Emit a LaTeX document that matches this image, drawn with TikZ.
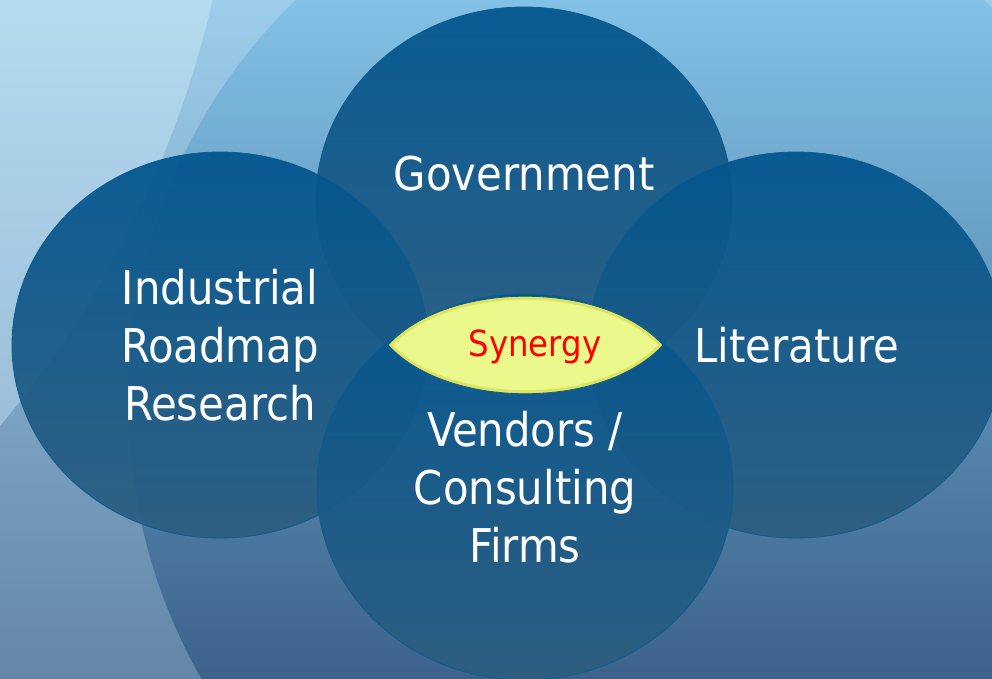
\documentclass[tikz,border=0pt]{standalone}
\usepackage{fontspec}
\usepackage{xcolor}
\usepackage{tikz}
\usetikzlibrary{shapes.geometric}
\newfontfamily\diagfont{DejaVu Sans Condensed}
\definecolor{hgHellOben}{RGB}{180,219,240}
\definecolor{hgHellUnten}{RGB}{140,174,204}
\definecolor{hgMittelOben}{RGB}{157,205,234}
\definecolor{hgMittelUnten}{RGB}{100,134,168}
\definecolor{hgDunkelOben}{RGB}{130,193,229}
\definecolor{hgDunkelUnten}{RGB}{60,98,140}
\definecolor{kreisOben}{RGB}{2,86,143}
\definecolor{kreisUnten}{RGB}{46,94,128}
\definecolor{kreisRand}{RGB}{12,92,140}
\definecolor{linsenGelb}{RGB}{234,248,140}
\newcommand{\linsenpfad}{(388,345) .. controls (448,280) and (603,280) .. (663,345)
  .. controls (603,410) and (448,410) .. (388,345)}
\tikzset{
  Kreis/.style={ellipse, draw=kreisRand, line width=.8pt, inner sep=0pt,
    minimum width=416pt, minimum height=386pt,
    top color=kreisOben, bottom color=kreisUnten, fill opacity=.94,
    text opacity=1, text=white, align=center,
    font={\diagfont\fontsize{46.5}{58}\selectfont}}, % die vier Kreise
  Text/.style={text=white, align=center, inner sep=0pt,
    font={\diagfont\fontsize{46.5}{58}\selectfont}},
  Linse/.style={draw=kreisRand, line width=.8pt},
  Synergie/.style={text=red, inner sep=0pt,
    font={\diagfont\fontsize{36}{40}\selectfont}}
}

\begin{document}
\begin{tikzpicture}[x=1pt, y=-1pt]
\useasboundingbox (0,0) rectangle (992,679);

%Hintergrund
\shade[top color=hgMittelOben, bottom color=hgMittelUnten] (0,0) rectangle (992,679);
\begin{scope}
  \clip (-786,-232) circle [radius=1025];
  \shade[top color=hgHellOben, bottom color=hgHellUnten] (0,0) rectangle (992,679);
\end{scope}
\begin{scope}
  \clip (640,400) ellipse [x radius=512, y radius=540];
  \shade[top color=hgDunkelOben, bottom color=hgDunkelUnten] (0,0) rectangle (992,679);
\end{scope}

%Kreise
\node[Kreis] (gov) at (524,200) {};
\node[Kreis] (ind) at (220,345) {Industrial\\Roadmap\\Research};
\node[Kreis] (lit) at (796,345) {};
\node[Kreis] (ven) at (525,487) {Vendors /\\Consulting\\Firms};

%Beschriftung
\node[Text] (govtext) at ([yshift=26pt]gov.center) {Government};
\node[Text] (littext) at (797,345) {Literature};

%Schnittmenge
\fill[linsenGelb] \linsenpfad;
\begin{scope}
  \clip \linsenpfad;
  \draw[line width=7pt, draw=yellow!45!olive, opacity=.3] \linsenpfad;
\end{scope}
\draw[Linse] \linsenpfad;
\node[Synergie] (syn) at (535,347) {Synergy};

\end{tikzpicture}
\end{document}
